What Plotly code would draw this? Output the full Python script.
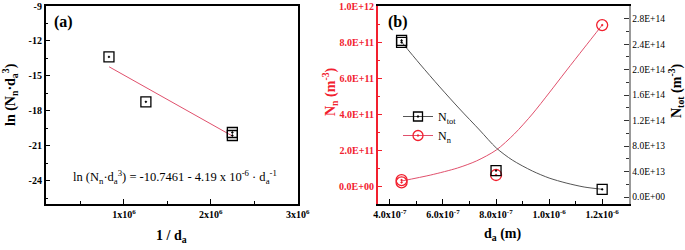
import plotly.graph_objects as go

# ---------------- Panel (a) data ----------------
a_x = [0.828e6, 1.253e6, 2.248e6, 2.248e6]
a_y = [-13.37, -17.23, -19.86, -20.12]
a_fit_x = [0.83e6, 2.25e6]
a_fit_y = [-14.22, -20.17]
a_xticks = [1e6, 2e6, 3e6]
a_xticklabels = ["1x10<sup>6</sup>", "2x10<sup>6</sup>", "3x10<sup>6</sup>"]
a_yticks = [-24, -21, -18, -15, -12, -9]
a_yticklabels = ["-24", "-21", "-18", "-15", "-12", "-9"]

# ---------------- Panel (b) data ----------------
b_tot_x = [4.44e-7, 4.44e-7, 8.0e-7, 1.2e-6]
b_tot_y = [2.43e14, 2.46e14, 4.14e13, 1.2e13]
b_n_x = [4.44e-7, 4.44e-7, 8.0e-7, 1.2e-6]
b_n_y = [3.3e10, 2.0e10, 6.1e10, 8.94e11]
b_tot_curve_x = [4.44e-7, 5.13e-7, 5.88e-7, 6.63e-7, 7.38e-7, 8.01e-7, 8.61e-7,
                 9.37e-7, 1.0e-6, 1.064e-6, 1.132e-6, 1.2e-6]
b_tot_curve_y = [2.435e14, 2.089e14, 1.728e14, 1.382e14, 1.052e14, 0.770e14, 0.581e14,
                 0.408e14, 0.298e14, 0.220e14, 0.157e14, 0.121e14]
b_n_curve_x = [4.44e-7, 5.54e-7, 6.55e-7, 7.26e-7, 8.01e-7, 8.69e-7, 9.37e-7,
               1.0e-6, 1.064e-6, 1.132e-6, 1.2e-6]
b_n_curve_y = [0.278e11, 0.611e11, 1.0e11, 1.39e11, 2.0e11, 2.89e11, 4.0e11,
               5.17e11, 6.39e11, 7.67e11, 8.94e11]
b_xticks = [4e-7, 6e-7, 8e-7, 1.0e-6, 1.2e-6]
b_xticklabels = ["4.0x10<sup>-7</sup>", "6.0x10<sup>-7</sup>", "8.0x10<sup>-7</sup>",
                 "1.0x10<sup>-6</sup>", "1.2x10<sup>-6</sup>"]
b_lticks = [0, 2e11, 4e11, 6e11, 8e11, 1e12]
b_lticklabels = ["0.0E+00", "2.0E+11", "4.0E+11", "6.0E+11", "8.0E+11", "1.0E+12"]
b_rticks = [0, 4e13, 8e13, 1.2e14, 1.6e14, 2.0e14, 2.4e14, 2.8e14]
b_rticklabels = ["0.0E+00", "4.0E+13", "8.0E+13", "1.2E+14", "1.6E+14",
                 "2.0E+14", "2.4E+14", "2.8E+14"]

SERIF = "Liberation Serif"
RED = "#f2202e"
RED_LINE = "#e0506c"
W, H = 685, 250

fig = go.Figure()

# Panel (a)
fig.add_trace(go.Scatter(x=a_fit_x, y=a_fit_y, mode="lines",
                         line=dict(color=RED_LINE, width=1),
                         xaxis="x", yaxis="y", showlegend=False))
fig.add_trace(go.Scatter(x=a_x, y=a_y, mode="markers",
                         marker=dict(symbol="square-open-dot", size=10, color="black",
                                     line=dict(width=1.3, color="black")),
                         xaxis="x", yaxis="y", showlegend=False))

# Panel (b)
fig.add_trace(go.Scatter(x=b_tot_curve_x, y=b_tot_curve_y, mode="lines",
                         line=dict(color="#555555", width=1, shape="spline", smoothing=0.8),
                         xaxis="x2", yaxis="y3", showlegend=False))
fig.add_trace(go.Scatter(x=b_n_curve_x, y=b_n_curve_y, mode="lines",
                         line=dict(color=RED_LINE, width=1, shape="spline", smoothing=0.8),
                         xaxis="x2", yaxis="y2", showlegend=False))
fig.add_trace(go.Scatter(x=b_tot_x, y=b_tot_y, mode="markers",
                         marker=dict(symbol="square-open-dot", size=10, color="black",
                                     line=dict(width=1.3, color="black")),
                         xaxis="x2", yaxis="y3", showlegend=False))
fig.add_trace(go.Scatter(x=b_n_x, y=b_n_y, mode="markers",
                         marker=dict(symbol="circle-open-dot", size=11, color=RED,
                                     line=dict(width=1.3, color=RED)),
                         xaxis="x2", yaxis="y2", showlegend=False))

# legend entries
fig.add_trace(go.Scatter(x=[None], y=[None], mode="lines+markers", name="N<sub>tot</sub>",
                         line=dict(color="#555555", width=1),
                         marker=dict(symbol="square-open-dot", size=9, color="black",
                                     line=dict(width=1.3, color="black")),
                         xaxis="x2", yaxis="y3"))
fig.add_trace(go.Scatter(x=[None], y=[None], mode="lines+markers", name="N<sub>n</sub>",
                         line=dict(color=RED_LINE, width=1),
                         marker=dict(symbol="circle-open-dot", size=10, color=RED,
                                     line=dict(width=1.3, color=RED)),
                         xaxis="x2", yaxis="y2"))

tickfont_b = dict(family=SERIF, size=10, color="black", weight="bold")

axis_common = dict(showgrid=False, zeroline=False, ticks="inside", ticklen=5,
                   tickwidth=1.2, showline=True, linewidth=1.5, automargin=False)

fig.update_layout(
    width=W, height=H, margin=dict(l=0, r=0, t=0, b=0, autoexpand=False),
    paper_bgcolor="white", plot_bgcolor="white",
    font=dict(family=SERIF, color="black"),
    xaxis=dict(domain=[45.7 / W, 297.7 / W], range=[1e5, 3e6], anchor="y",
               tickmode="array", tickvals=a_xticks, ticktext=a_xticklabels,
               tickfont=tickfont_b, linecolor="black", tickcolor="black", mirror=True,
               minor=dict(tickmode="linear", tick0=0, dtick=5e5, ticks="inside",
                          ticklen=3, tickcolor="black"),
               **axis_common),
    yaxis=dict(domain=[46 / H, 244 / H], range=[-26, -9], anchor="x",
               tickmode="array", tickvals=a_yticks, ticktext=a_yticklabels,
               tickfont=tickfont_b, linecolor="black", tickcolor="black", mirror=True,
               minor=dict(tickmode="linear", tick0=-9, dtick=1.5, ticks="inside",
                          ticklen=3, tickcolor="black"),
               **axis_common),
    xaxis2=dict(domain=[377.7 / W, 628.7 / W], range=[3.54e-7, 1.3e-6], anchor="y2",
                tickmode="array", tickvals=b_xticks, ticktext=b_xticklabels,
                tickfont=tickfont_b, linecolor="black", tickcolor="black", mirror=True,
                minor=dict(tickmode="linear", tick0=0, dtick=1e-7, ticks="inside",
                           ticklen=3, tickcolor="black"),
                **axis_common),
    yaxis2=dict(domain=[46 / H, 244 / H], range=[-1e11, 1e12], anchor="x2",
                tickmode="array", tickvals=b_lticks, ticktext=b_lticklabels,
                tickfont=dict(family=SERIF, size=10, color=RED, weight="bold"),
                linecolor=RED, tickcolor=RED,
                minor=dict(tickmode="linear", tick0=0, dtick=1e11, ticks="inside",
                           ticklen=3, tickcolor=RED),
                **axis_common),
    yaxis3=dict(domain=[46 / H, 244 / H], range=[-1.1e13, 3.0e14], anchor="x2",
                overlaying="y2", side="right",
                tickmode="array", tickvals=b_rticks, ticktext=b_rticklabels,
                tickfont=dict(family=SERIF, size=9.5, color="black"),
                linecolor="#999999", tickcolor="#333333",
                minor=dict(tickmode="linear", tick0=0, dtick=2e13, ticks="inside",
                           ticklen=3, tickcolor="#333333"),
                **axis_common),
    legend=dict(x=398 / W, y=1 - 102 / H, xanchor="left", yanchor="top",
                bgcolor="rgba(0,0,0,0)", font=dict(family=SERIF, size=12, color="black"),
                itemwidth=30, tracegroupgap=0),
)

ann = [
    dict(text="<b>(a)</b>", x=64 / W, y=1 - 22 / H, size=16, color="black", angle=0),
    dict(text="<b>(b)</b>", x=398 / W, y=1 - 22 / H, size=16, color="black", angle=0),
    dict(text="<b>ln (N<sub>n</sub>·d<sub>a</sub><sup>3</sup>)</b>", x=10 / W, y=1 - 95 / H,
         size=14, color="black", angle=-90),
    dict(text="<b>1 / d<sub>a</sub></b>", x=171 / W, y=1 - 236 / H, size=14, color="black", angle=0),
    dict(text="<b>N<sub>n</sub> (m<sup>-3</sup>)</b>", x=330 / W, y=1 - 92 / H,
         size=14, color=RED, angle=-90),
    dict(text="<b>N<sub>tot</sub> (m<sup>-3</sup>)</b>", x=676 / W, y=1 - 91 / H,
         size=14, color="black", angle=-90),
    dict(text="<b>d<sub>a</sub> (m)</b>", x=503 / W, y=1 - 234 / H, size=14, color="black", angle=0),
    dict(text="ln (N<sub>n</sub>·d<sub>a</sub><sup>3</sup>) = -10.7461 - 4.19 x 10<sup>-6</sup> · d<sub>a</sub><sup>-1</sup>",
         x=175 / W, y=1 - 177 / H, size=12.5, color="black", angle=0),
]
for a in ann:
    fig.add_annotation(text=a["text"], x=a["x"], y=a["y"], xref="paper", yref="paper",
                       xanchor="center", yanchor="middle", showarrow=False,
                       textangle=a["angle"],
                       font=dict(family=SERIF, size=a["size"], color=a["color"]))

fig.write_html("out.html", config={"displayModeBar": False},
               post_script="document.body.style.margin='0px';document.body.style.padding='0px';")
